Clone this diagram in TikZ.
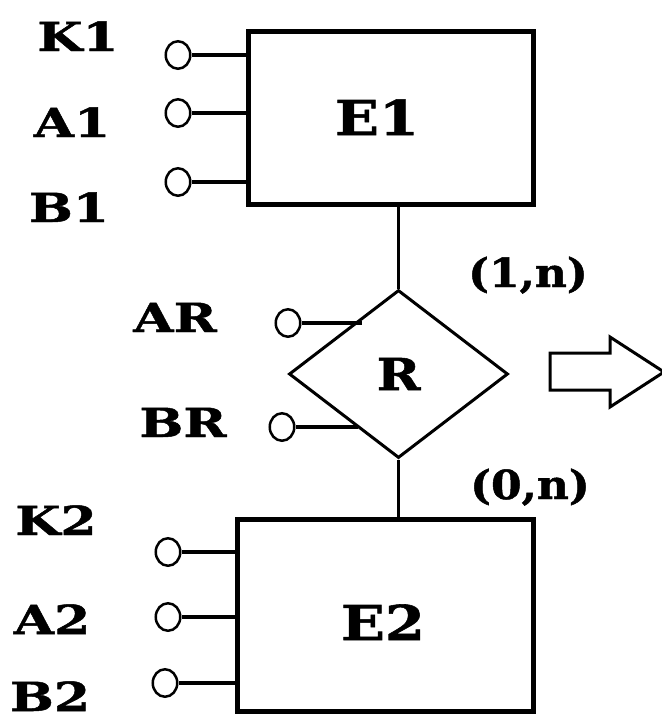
\documentclass[tikz,border=0pt]{standalone}
\usepackage{fontspec}
\usetikzlibrary{shapes.geometric}
\newfontfamily\lblfont[FakeStretch=1.3,FakeBold=1.2]{DejaVu Serif}
\newfontfamily\entfont[FakeStretch=1.2,FakeBold=1.2]{DejaVu Serif}
\newfontfamily\cardfont[FakeStretch=1.1,FakeBold=1.2]{DejaVu Serif}
\begin{document}
\begin{tikzpicture}[x=1pt,y=-1pt,
  entbox/.style={draw, rectangle, line width=5pt, inner sep=0pt},
  relbox/.style={draw, diamond, line width=3pt, inner sep=0pt, minimum width=219pt, minimum height=168pt,
     font=\entfont\bfseries\fontsize{44}{50}\selectfont},
  attrc/.style={draw, ellipse, line width=2.5pt, minimum width=24.5pt, minimum height=27.5pt, inner sep=0pt},
  attrline/.style={line width=4pt},
  conn/.style={line width=3.5pt},
  lbl/.style={anchor=base, inner sep=0pt, font=\lblfont\bfseries\fontsize{40}{48}\selectfont},
  entlbl/.style={anchor=base, inner sep=0pt, font=\entfont\bfseries\fontsize{48}{56}\selectfont},
  card/.style={anchor=base, inner sep=0pt, font=\cardfont\bfseries\fontsize{40}{48}\selectfont},
  bigarrow/.style={draw, line width=3pt, line join=miter}
]
\useasboundingbox (0,0) rectangle (662,721);

% entities
\node[entbox, minimum width=285pt, minimum height=173pt] (e1) at (390.5,117.5) {};
\node[entlbl] (e1t) at (377,135) {E1};
\node[entbox, minimum width=296pt, minimum height=192pt] (e2) at (385,615) {};
\node[entlbl] (e2t) at (383,640) {E2};

% relationship
\node[relbox] (r) at (398.5,374) {R};
\draw[conn] (r.north) -- (r.north |- e1.south);
\draw[conn] (r.south) -- (r.south |- e2.north);

% cardinalities
\node[card] (c1) at (528,287) {(1,n)};
\node[card] (c2) at (530,499) {(0,n)};

% attributes of E1
\node[attrc] (k1c) at (178,55) {};
\node[attrc] (a1c) at (178,113) {};
\node[attrc] (b1c) at (178,182) {};
\draw[attrline] (k1c.east) -- (k1c.east -| e1.west);
\draw[attrline] (a1c.east) -- (a1c.east -| e1.west);
\draw[attrline] (b1c.east) -- (b1c.east -| e1.west);
\node[lbl] (k1) at (78,51) {K1};
\node[lbl] (a1) at (72,137) {A1};
\node[lbl] (b1) at (69,222) {B1};

% attributes of R
\node[attrc] (arc) at (288,323) {};
\node[attrc] (brc) at (282,427) {};
\coordinate (arend) at (362,323);
\coordinate (brend) at (358,427);
\draw[attrline] (arc.east) -- (arend);
\draw[attrline] (brc.east) -- (brend);
\node[lbl] (ar) at (175,332) {AR};
\node[lbl] (br) at (183,437) {BR};

% attributes of E2
\node[attrc] (k2c) at (168,552) {};
\node[attrc] (a2c) at (168,617) {};
\node[attrc] (b2c) at (165,683) {};
\draw[attrline] (k2c.east) -- (k2c.east -| e2.west);
\draw[attrline] (a2c.east) -- (a2c.east -| e2.west);
\draw[attrline] (b2c.east) -- (b2c.east -| e2.west);
\node[lbl] (k2) at (56,535) {K2};
\node[lbl] (a2) at (52,634) {A2};
\node[lbl] (b2) at (50,711) {B2};

% transformation arrow
\draw[bigarrow] (550,353) -- (610,353) -- (610,337) -- (664,372) -- (610,407) -- (610,390) -- (550,390) -- cycle;
\end{tikzpicture}
\end{document}
